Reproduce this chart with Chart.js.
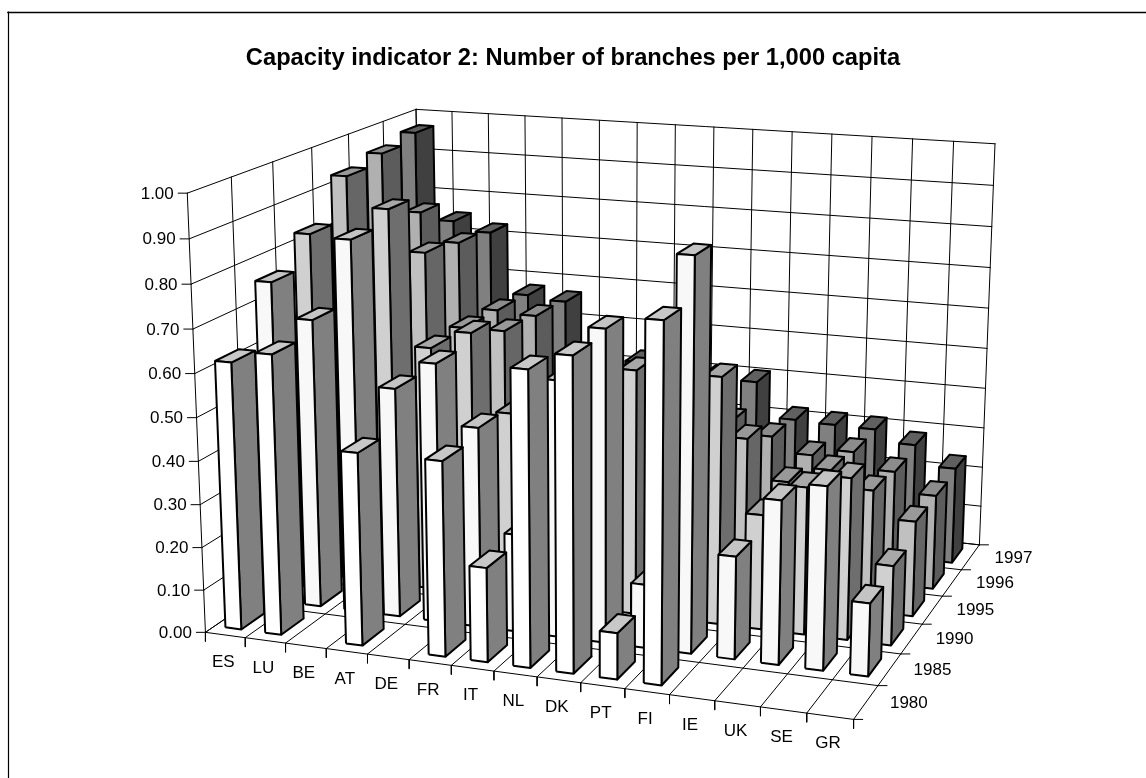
<!DOCTYPE html><html><head><meta charset="utf-8"><title>Capacity indicator 2</title>
<style>html,body{margin:0;padding:0;background:#fff}#wrap{position:relative;width:1146px;height:778px}canvas{display:block}</style>
<script src="https://cdn.jsdelivr.net/npm/chart.js@4/dist/chart.umd.js"></script></head><body><div id="wrap"><canvas id="c" width="1146" height="778"></canvas></div>
<script>
const titleText='Capacity indicator 2: Number of branches per 1,000 capita';
const categories=['ES','LU','BE','AT','DE','FR','IT','NL','DK','PT','FI','IE','UK','SE','GR'];
const years=['1980','1985','1990','1995','1996','1997'];
const valueTicks=[0,0.1,0.2,0.3,0.4,0.5,0.6,0.7,0.8,0.9,1];
const s1980=[.62,.647,null,.444,null,.446,.216,.667,.706,.105,.798,null,null,null,null];
const s1985=[.757,.678,.869,.537,.604,.466,.228,.592,.717,.147,.893,.236,.374,.416,.166];
const s1990=[.828,.78,.90,.583,.627,.446,.30,.45,.575,.30,.578,.269,.344,.376,.185];
const s1995=[.928,.72,.758,.584,.585,.44,.33,.45,.40,.30,.381,.288,.327,.289,.226];
const s1996=[.949,.81,.742,.582,.576,.45,.40,.42,.42,.36,.332,.296,.314,.276,.228];
const s1997=[.968,.75,.728,.576,.567,.46,.43,.42,.41,.406,.32,.317,.315,.286,.237];
const series=[s1980,s1985,s1990,s1995,s1996,s1997];
const frontColors=['#ffffff','#f8f8f8','#d0d0d0','#c0c0c0','#b0b0b0','#808080'];
const sideColors=['#808080','#808080','#6e6e6e','#666666','#5c5c5c','#404040'];
const topColors=['#c8c8c8','#c4c4c4','#a8a8a8','#999999','#8c8c8c','#606060'];
const BAR_U0=.27,BAR_U1=.67,BAR_V0=.22,BAR_V1=.78;
// camera calibrated from box corners: [u,v,w,px,py]
const anchors=[[0,0,0,205.3,632.3],[1,0,0,853.7,719.3],[1,1,0,979.3,545],[0,1,0,423,483.5],[0,0,1,187.3,193.3],[0,1,1,416,109.3],[1,1,1,995,143.7]];
function solveCamera(){const A=[],b=[];for(const [u,v,w,x,y] of anchors){A.push([u,v,w,1,0,0,0,0,-x*u,-x*v,-x*w]);b.push(x);A.push([0,0,0,0,u,v,w,1,-y*u,-y*v,-y*w]);b.push(y);}
const n=11,N=[...Array(n)].map(()=>Array(n+1).fill(0));for(let k=0;k<A.length;k++)for(let i=0;i<n;i++){for(let j=0;j<n;j++)N[i][j]+=A[k][i]*A[k][j];N[i][n]+=A[k][i]*b[k];}
for(let i=0;i<n;i++){let p=i;for(let r=i;r<n;r++)if(Math.abs(N[r][i])>Math.abs(N[p][i]))p=r;[N[i],N[p]]=[N[p],N[i]];for(let r=0;r<n;r++)if(r!=i){const f=N[r][i]/N[i][i];for(let c=i;c<=n;c++)N[r][c]-=f*N[i][c];}}return N.map((r,i)=>r[n]/r[i]);}
const m=solveCamera();
function P(u,v,w){const d=m[8]*u+m[9]*v+m[10]*w+1;return{x:(m[0]*u+m[1]*v+m[2]*w+m[3])/d,y:(m[4]*u+m[5]*v+m[6]*w+m[7])/d};}
const paint=[];
function line(label,pts,w){paint.push({label,data:pts,borderColor:'#000',borderWidth:w||1,fill:false,pointRadius:0,tension:0,clip:false,borderCapStyle:'square'});}
function poly(label,pts,bg){const c=pts.concat([pts[0]]);paint.push({label,data:c,borderColor:'#000',backgroundColor:bg,borderWidth:2,fill:'shape',pointRadius:0,tension:0,clip:false,borderJoinStyle:'round'});}
const nC=categories.length,nY=years.length;
line('frame top',[{x:8,y:12.5},{x:1146,y:12.5}],1.6);line('frame left',[{x:8.5,y:12},{x:8.5,y:778}],1.2);
for(const t of valueTicks){line('back h',[P(0,1,t),P(1,1,t)]);line('left h',[P(0,0,t),P(0,1,t)]);const a=P(0,0,t);line('tick',[a,{x:a.x-9,y:a.y}]);}
for(let i=0;i<=nC;i++){line('back v',[P(i/nC,1,0),P(i/nC,1,1)]);line('floor d',[P(i/nC,0,0),P(i/nC,1,0)]);const a=P(i/nC,0,0);line('tick',[a,{x:a.x,y:a.y+9}]);}
for(let r=0;r<=nY;r++){line('left v',[P(0,r/nY,0),P(0,r/nY,1)]);line('floor w',[P(0,r/nY,0),P(1,r/nY,0)]);const a=P(1,r/nY,0);line('tick',[a,{x:a.x+9,y:a.y}]);}
for(let r=nY-1;r>=0;r--){for(let i=0;i<nC;i++){const val=series[r][i];if(val==null)continue;
const u0=(i+BAR_U0)/nC,u1=(i+BAR_U1)/nC,v0=(r+BAR_V0)/nY,v1=(r+BAR_V1)/nY,tag=years[r]+' '+categories[i];
poly(tag+' side',[P(u1,v0,0),P(u1,v1,0),P(u1,v1,val),P(u1,v0,val)],sideColors[r]);
poly(tag+' top',[P(u0,v0,val),P(u1,v0,val),P(u1,v1,val),P(u0,v1,val)],topColors[r]);
poly(tag+' front',[P(u0,v0,0),P(u1,v0,0),P(u1,v0,val),P(u0,v0,val)],frontColors[r]);}}
const labels3d={id:'labels3d',afterDraw(chart){const c=chart.ctx,X=chart.scales.x,Y=chart.scales.y;c.save();c.fillStyle='#000';c.font='17px "Liberation Sans"';c.textBaseline='middle';
const at=(p,dx,dy)=>[X.getPixelForValue(p.x)+dx,Y.getPixelForValue(p.y)+dy];
c.textAlign='right';for(const t of valueTicks){const [x,y]=at(P(0,0,t),-13.5,.8);c.fillText(t.toFixed(2),x,y);}
c.textAlign='center';categories.forEach((n,i)=>{const [x,y]=at(P((i+.5)/nC,0,0),-2,27.5);c.fillText(n,x,y);});
c.textAlign='left';years.forEach((n,r)=>{const [x,y]=at(P(1,(r+.5)/nY,0),24,.8);c.fillText(n,x,y);});c.restore();}};
new Chart(document.getElementById('c'),{type:'line',data:{datasets:paint.slice().reverse()},plugins:[labels3d],
options:{responsive:false,animation:false,events:[],parsing:true,layout:{padding:0},
plugins:{legend:{display:false},tooltip:{enabled:false},title:{display:true,text:titleText,color:'#000',font:{family:'"Liberation Sans"',size:23.7,weight:'bold',lineHeight:1.2},padding:{top:43.8,bottom:7.76}}},
scales:{x:{type:'linear',display:false,min:0,max:1146},y:{type:'linear',display:false,min:80,max:778,reverse:true}}}});
</script></body></html>
